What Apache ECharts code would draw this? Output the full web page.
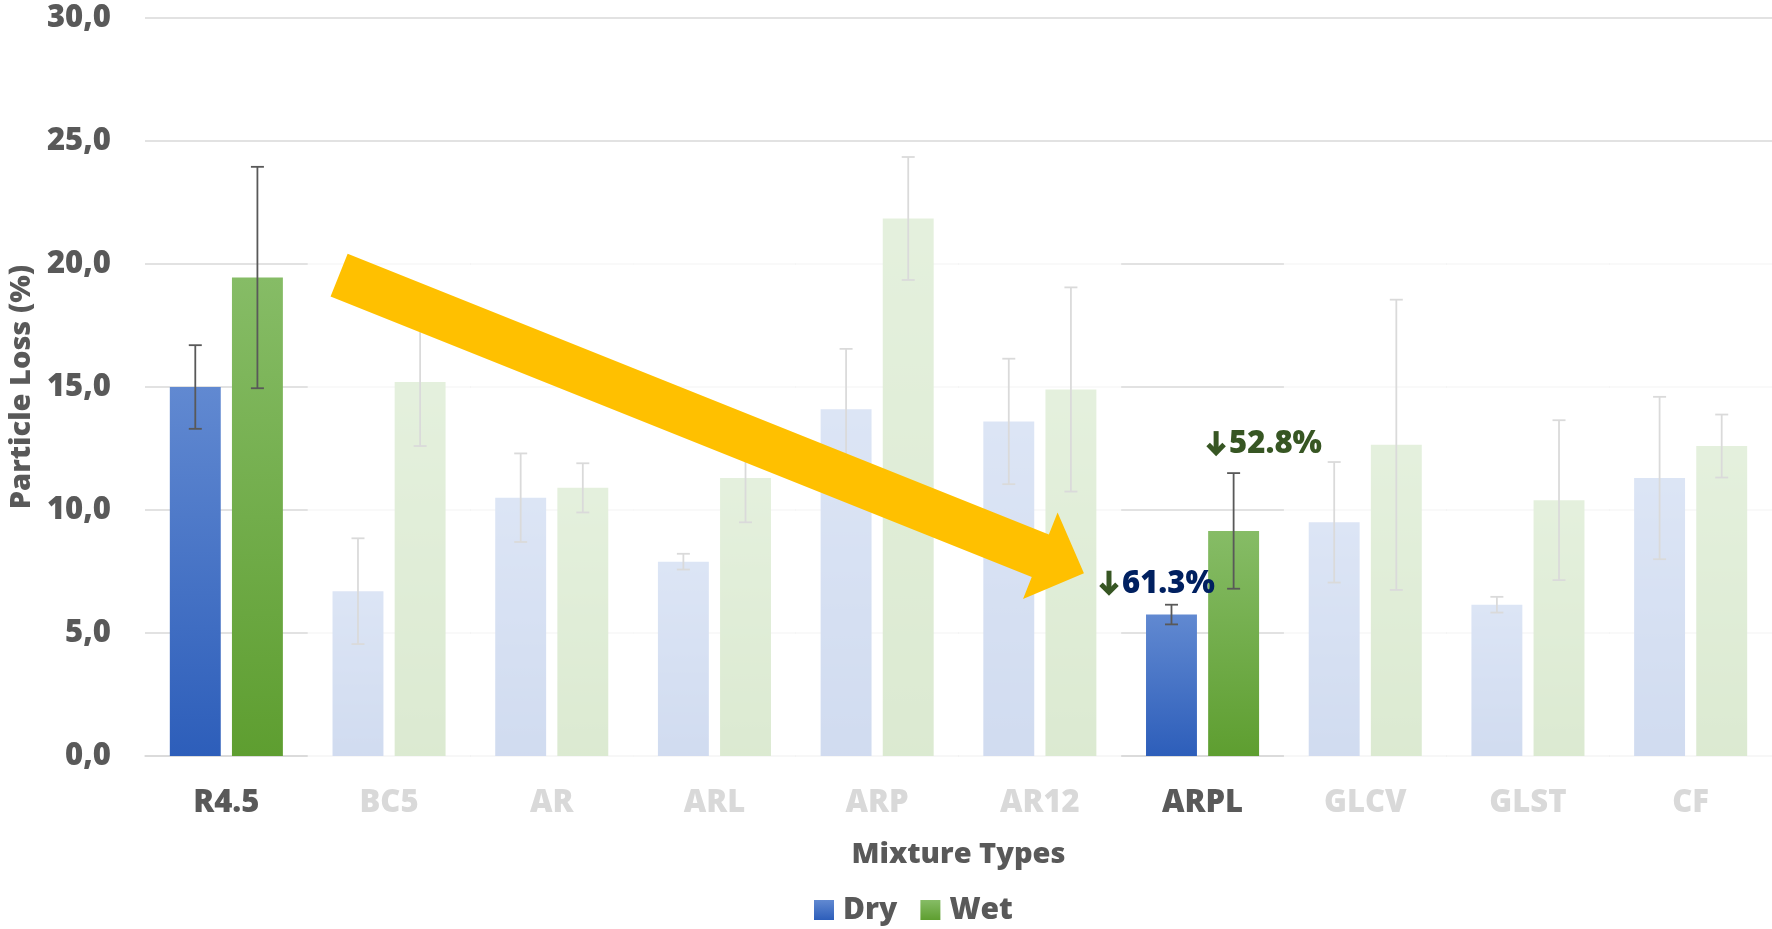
<!DOCTYPE html>
<html><head><meta charset="utf-8">
<script src="https://cdn.jsdelivr.net/npm/echarts@6/dist/echarts.min.js"></script>
<style>html,body{margin:0;padding:0;background:#fff}#c{width:1772px;height:929px}</style>
</head><body><div id="c"></div>
<script>
// ---- data ----
const categories = ['R4.5','BC5','AR','ARL','ARP','AR12','ARPL','GLCV','GLST','CF'];
const dryValues  = [15.0, 6.7, 10.5, 7.9, 14.1, 13.6, 5.75, 9.5, 6.15, 11.3];
const dryErrors  = [1.7, 2.15, 1.8, 0.32, 2.45, 2.55, 0.4, 2.45, 0.32, 3.3];
const wetValues  = [19.45, 15.2, 10.9, 11.3, 21.85, 14.9, 9.15, 12.65, 10.4, 12.6];
const wetErrors  = [4.5, 2.6, 1.0, 1.8, 2.5, 4.15, 2.35, 5.9, 3.25, 1.28];
const highlighted = ['R4.5','ARPL'];
const yTicks = [0, 5, 10, 15, 20, 25, 30];
const annotationCats   = ['ARPL','ARPL'];
const annotationSeries = ['Dry','Wet'];
const annotationTexts  = ['61.3%','52.8%'];

// ---- styling / layout ----
const FONT = '"Open Sans", "DejaVu Sans", sans-serif';
const WEIGHT = 800;
const DARK = '#595959', FADE = '#d9d9d9';
const BAR_W = 0.313, BAR_GAP = 0.22;
const OVERLAY_TOP = 24.6;
const annotationStyle = [
  {dx:-73, dy:-22, color:'#002060'},
  {dx:-28, dy:-30, color:'#375623'}
];
const ARROW_GREEN = '#375623';
const arrowFrom = {cat:'R4.5', band:0.693, value:19.55};
const arrowTo   = {cat:'ARPL', band:-0.729, value:7.43};

const sideOffset = (bw, side) => side * bw * BAR_W * (1 + BAR_GAP) / 2;

function errRender(side){
  return function(params, api){
    const i = api.value(0), v = api.value(1), e = api.value(2);
    const bw = api.size([1,0])[0];
    const t = api.coord([i, v + e]), b = api.coord([i, v - e]);
    const x = t[0] + sideOffset(bw, side);
    const cap = 6.5;
    const st = {stroke: DARK, lineWidth: 1.8};
    return {type:'group', children:[
      {type:'line', shape:{x1:x, y1:t[1], x2:x, y2:b[1]}, style:st},
      {type:'line', shape:{x1:x-cap, y1:t[1], x2:x+cap, y2:t[1]}, style:st},
      {type:'line', shape:{x1:x-cap, y1:b[1], x2:x+cap, y2:b[1]}, style:st}
    ]};
  };
}

const dryGrad = new echarts.graphic.LinearGradient(0,0,0,1,[{offset:0,color:'#6189d1'},{offset:1,color:'#2d5eba'}]);
const wetGrad = new echarts.graphic.LinearGradient(0,0,0,1,[{offset:0,color:'#86bc66'},{offset:1,color:'#5e9e30'}]);

const overlayData = categories.map((c,i)=>[i]).filter(d => !highlighted.includes(categories[d[0]]));
const annData = annotationCats.map((c,k)=>{
  const i = categories.indexOf(c);
  const isDry = annotationSeries[k] === 'Dry';
  const v = isDry ? dryValues[i] + dryErrors[i] : wetValues[i] + wetErrors[i];
  return [i, v, isDry ? -1 : 1, k];
});

const option = {
  animation: false,
  backgroundColor: '#fff',
  textStyle: {fontFamily: FONT},
  grid: {left: 145, right: 0, top: 18, bottom: 173, containLabel: false, outerBoundsMode: 'none'},
  legend: {
    data: ['Dry','Wet'], left: 814, top: 895, padding: 0,
    icon: 'rect', itemWidth: 20, itemHeight: 20, itemGap: 23,
    textStyle: {fontSize: 30, fontWeight: WEIGHT, color: DARK, fontFamily: FONT, padding:[0,0,0,4]}
  },
  xAxis: {
    type: 'category', data: categories,
    name: 'Mixture Types', nameLocation: 'middle', nameGap: 84,
    nameTextStyle: {fontSize: 29, fontWeight: WEIGHT, color: DARK, fontFamily: FONT},
    axisTick: {show: false},
    axisLine: {show: true, lineStyle: {color: FADE, width: 1.5}},
    axisLabel: {
      margin: 32, fontSize: 31, fontWeight: WEIGHT, fontFamily: FONT,
      color: v => highlighted.includes(v) ? DARK : FADE
    }
  },
  yAxis: {
    type: 'value', min: yTicks[0], max: yTicks[yTicks.length-1], interval: yTicks[1]-yTicks[0],
    name: 'Particle Loss (%)', nameLocation: 'middle', nameGap: 106, nameRotate: 90,
    nameTextStyle: {fontSize: 29, fontWeight: WEIGHT, color: DARK, fontFamily: FONT},
    axisLine: {show: false}, axisTick: {show: false},
    axisLabel: {margin: 34, fontSize: 31, fontWeight: WEIGHT, color: DARK, fontFamily: FONT,
      formatter: v => v.toFixed(1).replace('.', ',')},
    splitLine: {lineStyle: {color: FADE, width: 1.5}}
  },
  series: [
    {name:'Dry', type:'bar', data: dryValues, barWidth: (BAR_W*100)+'%', barGap: (BAR_GAP*100)+'%', z:2,
      itemStyle:{color: dryGrad, shadowBlur: 7, shadowColor:'rgba(0,0,0,0.35)'}},
    {name:'Wet', type:'bar', data: wetValues, barWidth: (BAR_W*100)+'%', barGap: (BAR_GAP*100)+'%', z:2,
      itemStyle:{color: wetGrad, shadowBlur: 7, shadowColor:'rgba(0,0,0,0.35)'}},
    {name:'DryErr', type:'custom', z:3, renderItem: errRender(-1),
      data: categories.map((c,i)=>[i, dryValues[i], dryErrors[i]]), encode:{x:0, y:1}},
    {name:'WetErr', type:'custom', z:3, renderItem: errRender(1),
      data: categories.map((c,i)=>[i, wetValues[i], wetErrors[i]]), encode:{x:0, y:1}},
    {name:'Overlay', type:'custom', z:5, silent:true, data: overlayData, encode:{x:0},
      renderItem: function(params, api){
        const i = api.value(0);
        const bw = api.size([1,0])[0];
        const b = api.coord([i, 0]), t = api.coord([i, OVERLAY_TOP]);
        return {type:'rect', shape:{x:b[0]-bw/2, y:t[1], width:bw, height:b[1]-t[1]+2},
          style:{fill:'rgba(255,255,255,0.78)'}};
      }},
    {name:'Ann', type:'custom', z:20, silent:true, data: annData, encode:{x:0, y:1},
      renderItem: function(params, api){
        const i = api.value(0), v = api.value(1), side = api.value(2), k = api.value(3);
        const bw = api.size([1,0])[0];
        const p = api.coord([i, v]);
        const s = annotationStyle[k];
        const x0 = p[0] + sideOffset(bw, side) + s.dx, y0 = p[1] + s.dy;
        const ast = {stroke: ARROW_GREEN, fill: null, lineWidth: 5, lineJoin: 'miter', lineCap: 'butt'};
        return {type:'group', children:[
          {type:'line', shape:{x1:x0+10.5, y1:y0-12, x2:x0+10.5, y2:y0+9}, style:ast},
          {type:'polyline', shape:{points:[[x0+2.5,y0+1.5],[x0+10.5,y0+9.5],[x0+18.5,y0+1.5]]}, style:ast},
          {type:'text', x: x0 + 23.5, y: y0 + 1,
            style:{text: annotationTexts[k], align:'left', verticalAlign:'middle',
              fill: s.color, fontSize: 31, fontWeight: WEIGHT, fontFamily: FONT}}
        ]};
      }}
  ]
};

const chart = echarts.init(document.getElementById('c'));
chart.setOption(option);

function arrowPoints(p0, p1, shaftW, headW, headL){
  const dx=p1[0]-p0[0], dy=p1[1]-p0[1], L=Math.hypot(dx,dy);
  const ux=dx/L, uy=dy/L, nx=-uy, ny=ux;
  const bx=p1[0]-ux*headL, by=p1[1]-uy*headL;
  return [
    [p0[0]+nx*shaftW/2, p0[1]+ny*shaftW/2],
    [bx+nx*shaftW/2, by+ny*shaftW/2],
    [bx+nx*headW/2, by+ny*headW/2],
    [p1[0], p1[1]],
    [bx-nx*headW/2, by-ny*headW/2],
    [bx-nx*shaftW/2, by-ny*shaftW/2],
    [p0[0]-nx*shaftW/2, p0[1]-ny*shaftW/2]
  ];
}
const toPx = (cat, band, value) => {
  const i = categories.indexOf(cat);
  const a = chart.convertToPixel({xAxisIndex:0, yAxisIndex:0}, [i, value]);
  const b = chart.convertToPixel({xAxisIndex:0, yAxisIndex:0}, [i+1, value]);
  return [a[0] + band*(b[0]-a[0]), a[1]];
};
const P0 = toPx(arrowFrom.cat, arrowFrom.band, arrowFrom.value);
const P1 = toPx(arrowTo.cat, arrowTo.band, arrowTo.value);
chart.setOption({graphic:[{type:'polygon', z:100, silent:true,
  shape:{points: arrowPoints(P0, P1, 46, 93, 47)}, style:{fill:'#FFC000'}}]});
</script>
</body></html>
